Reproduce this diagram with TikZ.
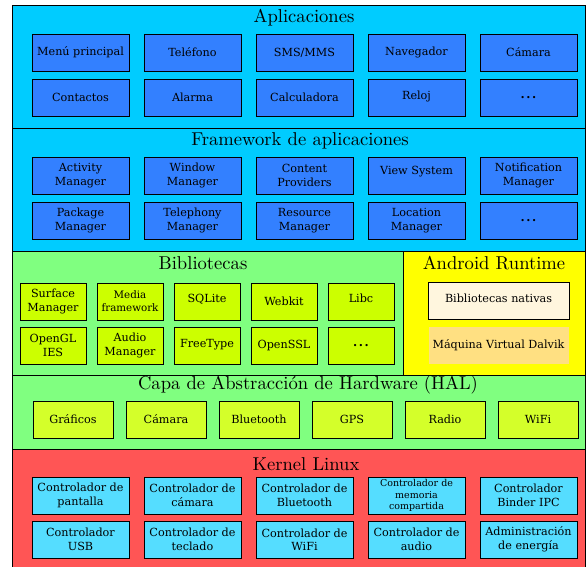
\documentclass[tikz,border=0pt]{standalone}
\usepackage{fontspec}
\newfontfamily\boxfont{DejaVu Serif}
\newfontfamily\titlefont{lmroman10-regular.otf}
\usetikzlibrary{positioning}
\definecolor{appsbg}{RGB}{0,204,255}
\definecolor{appbox}{RGB}{51,128,255}
\definecolor{libsbg}{RGB}{128,255,128}
\definecolor{libbox}{RGB}{204,255,0}
\definecolor{rtbg}{RGB}{255,255,0}
\definecolor{nativebox}{RGB}{255,246,222}
\definecolor{dalvikbox}{RGB}{255,224,130}
\definecolor{halbox}{RGB}{212,255,42}
\definecolor{kernelbg}{RGB}{255,85,85}
\definecolor{kernelbox}{RGB}{85,221,255}
\newcommand{\moredots}{.\hspace{1.5pt}.\hspace{1.5pt}.}
\begin{document}
\begin{tikzpicture}[x=1pt, y=-1pt, node distance=8pt and 15pt,
    layer/.style={draw, line width=0.8pt},
    title/.style={font=\titlefont\fontsize{18.6}{18.6}\selectfont},
    block/.style={rectangle, draw, line width=0.7pt, outer sep=0pt, minimum width=97pt, minimum height=37pt, inner sep=1pt, align=center, font=\boxfont\fontsize{11.2}{13.5}\selectfont},
    more/.style={font=\boxfont\bfseries\fontsize{12}{12}\selectfont},
    app/.style={block, fill=appbox},
    lib/.style={block, fill=libbox, minimum width=66pt},
    hal/.style={block, fill=halbox, minimum width=80pt},
    drv/.style={block, fill=kernelbox}]
    \useasboundingbox (0,0) rectangle (586,567);
    % capas
    \draw[layer, fill=appsbg] (12,5) rectangle (585,128);
    \draw[layer, fill=appsbg] (12,128) rectangle (585,251);
    \draw[layer, fill=libsbg] (12,251) rectangle (403,375);
    \draw[layer, fill=rtbg] (403,251) rectangle (585,375);
    \draw[layer, fill=libsbg] (12,375) rectangle (585,449);
    \draw[layer, fill=kernelbg] (12,449) rectangle (585,570);
    % Aplicaciones
    \node[title] (apps) at (304,18) {Aplicaciones};
    \node[app] (a1) at (80.5,52.5) {Menú principal};
    \node[app] (a2) [right=of a1] {Teléfono};
    \node[app] (a3) [right=of a2] {SMS/MMS};
    \node[app] (a4) [right=of a3] {\raisebox{3pt}{Navegador}};
    \node[app] (a5) [right=of a4] {Cámara};
    \node[app] (a6) [below=of a1] {Contactos};
    \node[app] (a7) [right=of a6] {Alarma};
    \node[app] (a8) [right=of a7] {Calculadora};
    \node[app] (a9) [right=of a8] {\raisebox{4pt}{Reloj}};
    \node[app, more] (a10) [right=of a9] {\moredots};
    % Framework de aplicaciones
    \node[title] (fw) at (300,141) {Framework de aplicaciones};
    \node[app] (f1) at (80.5,175.5) {Activity\\Manager};
    \node[app] (f2) [right=of f1] {Window\\Manager};
    \node[app] (f3) [right=of f2] {Content\\Providers};
    \node[app] (f4) [right=of f3] {\raisebox{10pt}{View System}};
    \node[app] (f5) [right=of f4] {Notification\\Manager};
    \node[app] (f6) [below=of f1] {Package\\Manager};
    \node[app] (f7) [right=of f6] {Telephony\\Manager};
    \node[app] (f8) [right=of f7] {Resource\\Manager};
    \node[app] (f9) [right=of f8] {Location\\Manager};
    \node[app, more] (f10) [right=of f9] {\moredots};
    % Bibliotecas
    \node[title] (libs) at (203,263) {Bibliotecas};
    \node[lib] (l1) at (53,301.5) {Surface\\Manager};
    \node[lib, font=\boxfont\fontsize{10.3}{13}\selectfont] (l2) [right=11pt of l1] {Media\\framework};
    \node[lib] (l3) [right=11pt of l2] {\raisebox{6pt}{SQLite}};
    \node[lib] (l4) [right=11pt of l3] {Webkit};
    \node[lib] (l5) [right=11pt of l4] {\raisebox{7pt}{Libc}};
    \node[lib] (l6) [below=7pt of l1] {OpenGL\\IES};
    \node[lib] (l7) [right=11pt of l6] {Audio\\Manager};
    \node[lib] (l8) [right=11pt of l7] {\raisebox{4pt}{FreeType}};
    \node[lib] (l9) [right=11pt of l8] {OpenSSL};
    \node[lib, more] (l10) [right=11pt of l9] {\moredots};
    % Android Runtime
    \node[title] (rt) at (494,263) {Android Runtime};
    \node[block, fill=nativebox, minimum width=141pt] (native) at (498.5,300.5) {\raisebox{5pt}{Bibliotecas nativas}};
    \node[block, draw=none, fill=dalvikbox, minimum width=140pt] (dalvik) [below=8pt of native] {Máquina Virtual Dalvik};
    % HAL
    \node[title] (hallayer) at (308,385) {Capa de Abstracción de Hardware (HAL)};
    \node[hal] (h1) at (73,419.5) {Gráficos};
    \node[hal] (h2) [right=13pt of h1] {Cámara};
    \node[hal] (h3) [right=13pt of h2] {Bluetooth};
    \node[hal] (h4) [right=13pt of h3] {GPS};
    \node[hal] (h5) [right=13pt of h4] {Radio};
    \node[hal] (h6) [right=13pt of h5] {WiFi};
    % Kernel Linux
    \node[title] (kernel) at (306,464) {Kernel Linux};
    \node[drv] (k1) at (80.5,495.5) {Controlador de\\pantalla};
    \node[drv] (k2) [right=of k1] {Controlador de\\cámara};
    \node[drv] (k3) [right=of k2] {Controlador de\\Bluetooth};
    \node[drv, font=\boxfont\fontsize{9.5}{11.2}\selectfont] (k4) [right=of k3] {Controlador de\\memoria\\compartida};
    \node[drv] (k5) [right=of k4] {Controlador\\Binder IPC};
    \node[drv] (k6) [below=7pt of k1] {Controlador\\USB};
    \node[drv] (k7) [right=of k6] {Controlador de\\teclado};
    \node[drv] (k8) [right=of k7] {Controlador de\\WiFi};
    \node[drv] (k9) [right=of k8] {Controlador de\\audio};
    \node[drv] (k10) [right=of k9] {Administración\\de energía};
\end{tikzpicture}
\end{document}
